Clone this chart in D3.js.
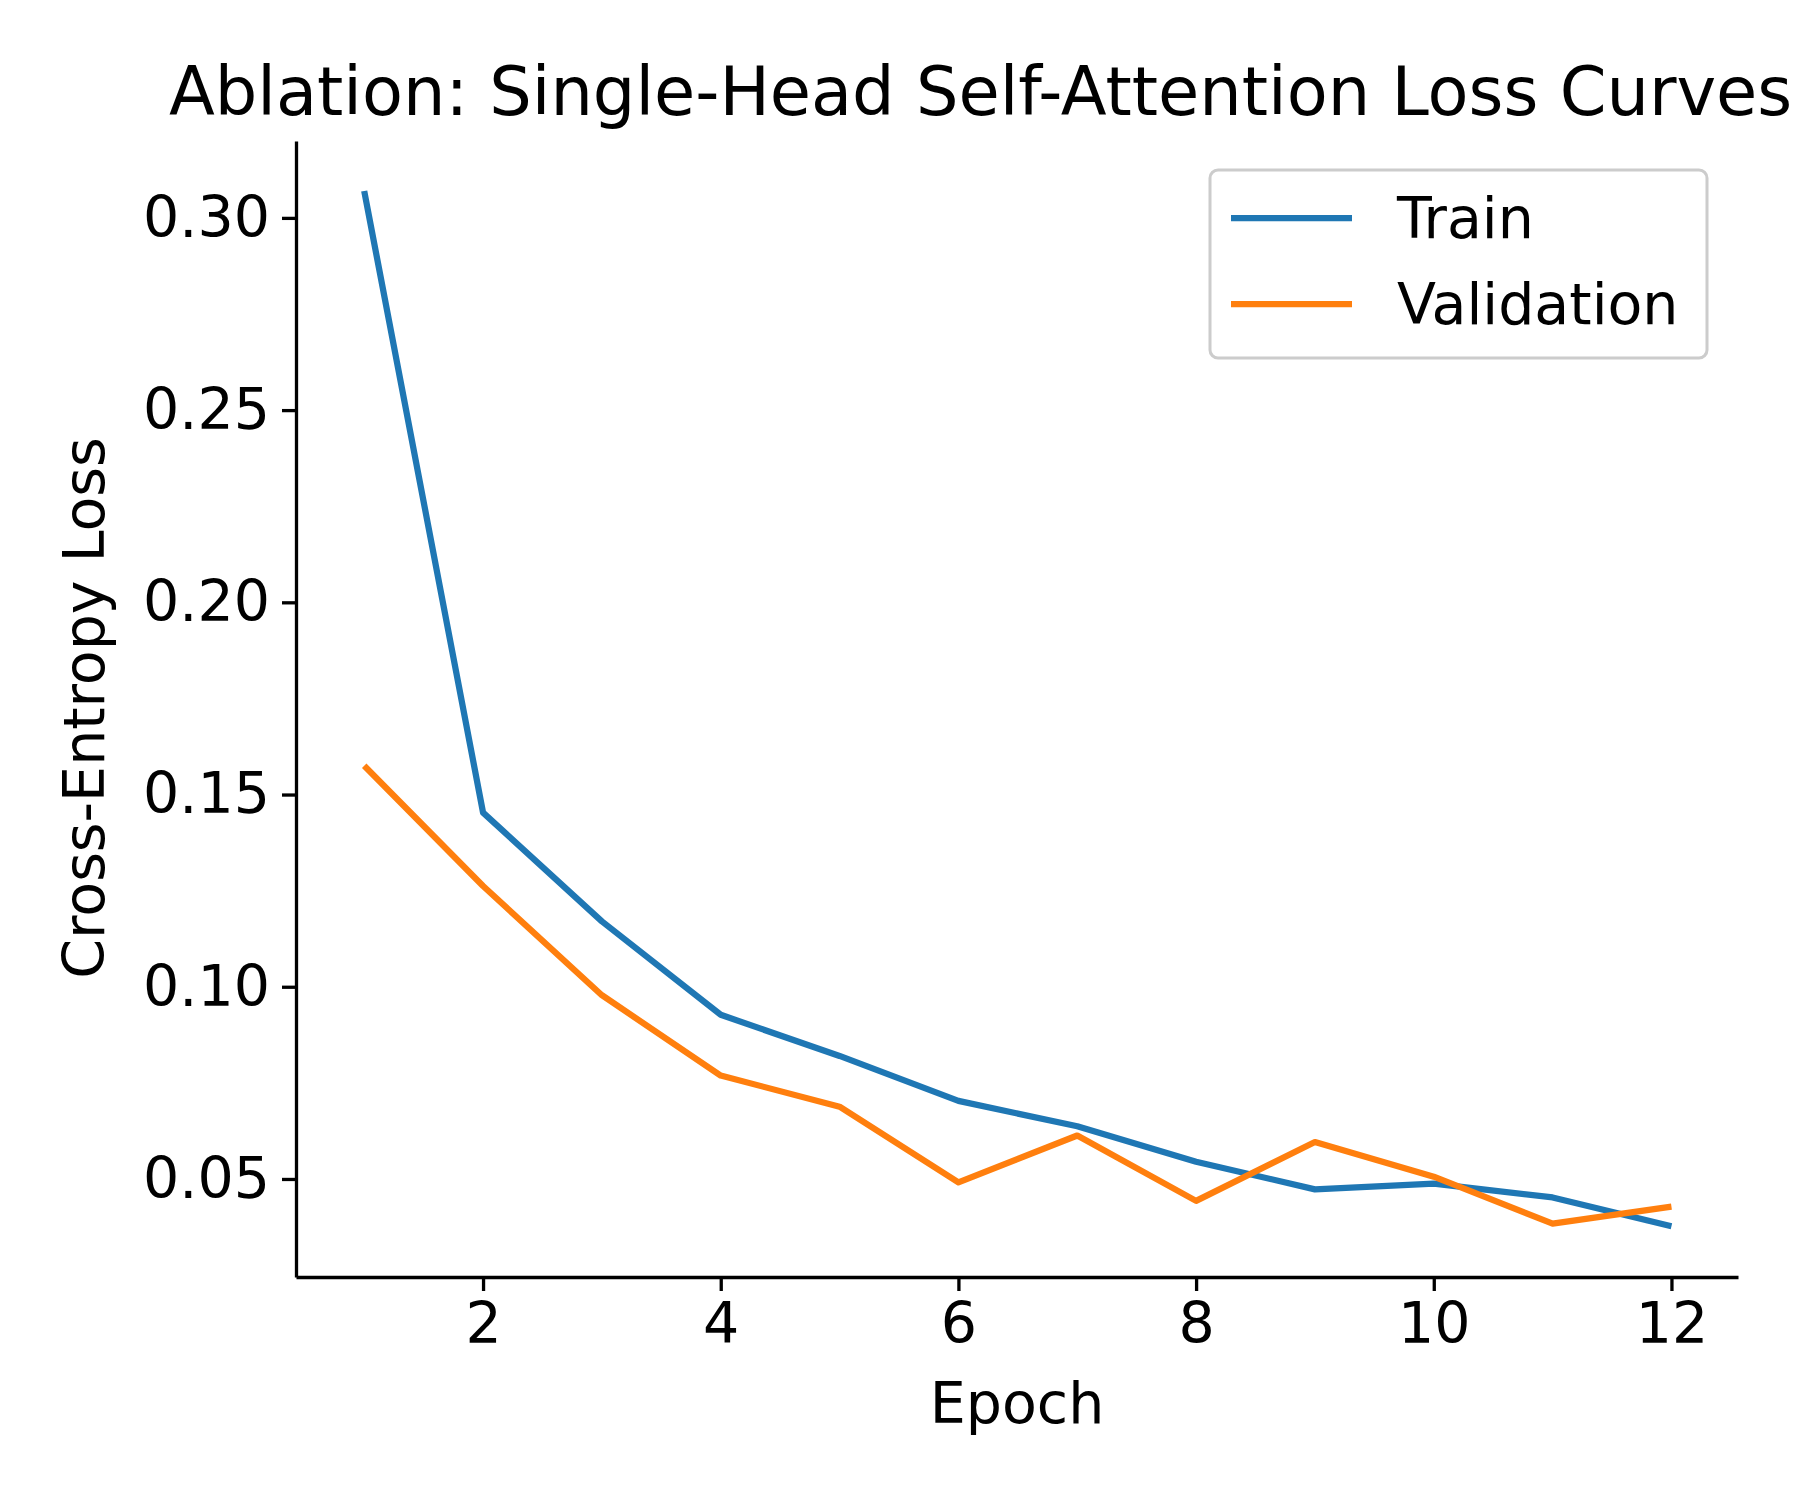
<!DOCTYPE html>
<html lang="en">
<head>
<meta charset="UTF-8">
<script src="https://d3js.org/d3.v7.min.js"></script>
<style>
  body { margin: 0; background: white; }
  svg { font-family: "DejaVu Sans", sans-serif; }
</style>
</head>
<body>
<svg id="chart" width="1800" height="1500"></svg>
<script>
// data
const epochs = [1, 2, 3, 4, 5, 6, 7, 8, 9, 10, 11, 12];
const trainLoss = [0.307, 0.1453, 0.117, 0.0927, 0.082, 0.0703, 0.0637, 0.0545, 0.0473, 0.0488, 0.0452, 0.0377];
const valLoss = [0.1575, 0.1262, 0.0978, 0.0769, 0.0688, 0.0491, 0.0613, 0.0443, 0.0596, 0.0506, 0.0384, 0.0428];
const xTicks = [2, 4, 6, 8, 10, 12];
const yTicks = [0.05, 0.10, 0.15, 0.20, 0.25, 0.30];
const seriesNames = ["Train", "Validation"];
const colors = ["#1f77b4", "#ff7f0e"];

const svg = d3.select("#chart");
const plotL = 296, plotR = 1738, plotT = 141, plotB = 1277;

const x = d3.scaleLinear().domain([0.426, 12.56]).range([plotL, plotR]);
const y = d3.scaleLinear().domain([0.0245, 0.32]).range([plotB, plotT]);

// axes
const xAxis = svg.append("g").attr("transform", `translate(0,${plotB})`)
  .call(d3.axisBottom(x).tickValues(xTicks).tickFormat(d3.format("d")).tickSize(14).tickPadding(12).tickSizeOuter(0));
const yAxis = svg.append("g").attr("transform", `translate(${plotL},0)`)
  .call(d3.axisLeft(y).tickValues(yTicks).tickFormat(d3.format(".2f")).tickSize(14).tickPadding(12).tickSizeOuter(0));
[xAxis, yAxis].forEach(a => {
  a.selectAll("path, line").attr("stroke", "#000").attr("stroke-width", 3.3);
  a.selectAll("text").attr("font-size", 57).attr("font-family", "DejaVu Sans").attr("fill", "#000");
});

// lines
const line = d3.line().x((d, i) => x(epochs[i])).y(d => y(d));
[trainLoss, valLoss].forEach((s, k) => {
  svg.append("path").datum(s)
    .attr("d", line)
    .attr("fill", "none")
    .attr("stroke", colors[k])
    .attr("stroke-width", 6.25)
    .attr("stroke-linejoin", "round");
});

// labels
svg.append("text").attr("x", (plotL + plotR) / 2).attr("y", 1423)
  .attr("text-anchor", "middle").attr("font-size", 57).text("Epoch");
svg.append("text").attr("transform", "translate(104,708) rotate(-90)")
  .attr("text-anchor", "middle").attr("font-size", 57).text("Cross-Entropy Loss");
svg.append("text").attr("x", 169).attr("y", 115)
  .attr("font-size", 67).text("Ablation: Single-Head Self-Attention Loss Curves");

// legend
const lg = svg.append("g");
lg.append("rect").attr("x", 1210).attr("y", 170).attr("width", 497).attr("height", 188)
  .attr("rx", 8).attr("fill", "white").attr("fill-opacity", 0.8)
  .attr("stroke", "#cccccc").attr("stroke-width", 3);
seriesNames.forEach((n, k) => {
  const yy = 218 + k * 86;
  lg.append("line").attr("x1", 1231).attr("x2", 1352).attr("y1", yy).attr("y2", yy)
    .attr("stroke", colors[k]).attr("stroke-width", 6.25);
  lg.append("text").attr("x", 1397).attr("y", yy + 20).attr("font-size", 57).text(n);
});
</script>
</body>
</html>
